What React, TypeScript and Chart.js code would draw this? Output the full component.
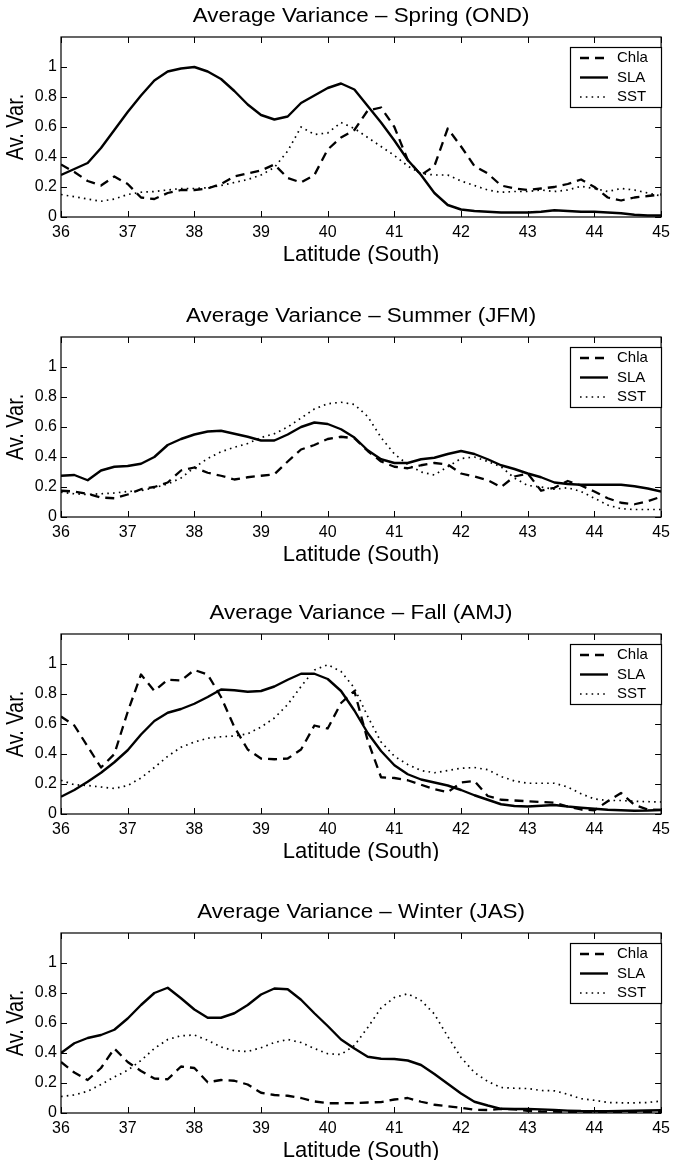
import React, { useEffect, useRef } from "react";
import { Chart, registerables } from "chart.js";

Chart.register(...registerables);

// ---------------- data ----------------
const LAT = [
  36.0, 36.2, 36.4, 36.6, 36.8, 37.0, 37.2, 37.4, 37.6, 37.8,
  38.0, 38.2, 38.4, 38.6, 38.8, 39.0, 39.2, 39.4, 39.6, 39.8,
  40.0, 40.2, 40.4, 40.6, 40.8, 41.0, 41.2, 41.4, 41.6, 41.8,
  42.0, 42.2, 42.4, 42.6, 42.8, 43.0, 43.2, 43.4, 43.6, 43.8,
  44.0, 44.2, 44.4, 44.6, 44.8, 45.0,
];

const X_TICKS = [36, 37, 38, 39, 40, 41, 42, 43, 44, 45];
const Y_TICKS = [0, 0.2, 0.4, 0.6, 0.8, 1];
const SERIES_NAMES = ["Chla", "SLA", "SST"];
const X_LABEL = "Latitude (South)";
const Y_LABEL = "Av. Var.";

const SPRING_CHLA = [0.35, 0.30, 0.24, 0.21, 0.27, 0.22, 0.13, 0.12, 0.16, 0.18, 0.18, 0.19, 0.22, 0.27, 0.29, 0.31, 0.35, 0.26, 0.23, 0.28, 0.45, 0.53, 0.58, 0.71, 0.73, 0.60, 0.38, 0.28, 0.34, 0.59, 0.47, 0.34, 0.29, 0.21, 0.19, 0.18, 0.19, 0.20, 0.22, 0.25, 0.20, 0.13, 0.11, 0.13, 0.14, 0.15];
const SPRING_SLA = [0.28, 0.32, 0.36, 0.46, 0.58, 0.70, 0.81, 0.91, 0.97, 0.99, 1.00, 0.97, 0.92, 0.84, 0.75, 0.68, 0.65, 0.67, 0.76, 0.81, 0.86, 0.89, 0.85, 0.74, 0.63, 0.51, 0.38, 0.28, 0.16, 0.08, 0.05, 0.04, 0.035, 0.03, 0.03, 0.03, 0.035, 0.045, 0.04, 0.035, 0.035, 0.03, 0.025, 0.015, 0.01, 0.01];
const SPRING_SST = [0.15, 0.135, 0.12, 0.105, 0.12, 0.15, 0.165, 0.17, 0.18, 0.19, 0.19, 0.195, 0.21, 0.23, 0.25, 0.28, 0.33, 0.44, 0.60, 0.55, 0.56, 0.63, 0.59, 0.53, 0.47, 0.41, 0.34, 0.29, 0.28, 0.28, 0.24, 0.21, 0.18, 0.165, 0.17, 0.17, 0.18, 0.17, 0.18, 0.205, 0.19, 0.17, 0.19, 0.18, 0.16, 0.14];

const SUMMER_CHLA = [0.175, 0.17, 0.155, 0.13, 0.125, 0.15, 0.185, 0.20, 0.23, 0.31, 0.33, 0.295, 0.275, 0.25, 0.265, 0.275, 0.285, 0.37, 0.45, 0.48, 0.52, 0.535, 0.525, 0.44, 0.37, 0.335, 0.325, 0.345, 0.36, 0.35, 0.29, 0.27, 0.245, 0.20, 0.27, 0.29, 0.175, 0.195, 0.24, 0.21, 0.17, 0.125, 0.095, 0.085, 0.105, 0.135];
const SUMMER_SLA = [0.275, 0.28, 0.245, 0.31, 0.335, 0.34, 0.355, 0.40, 0.48, 0.52, 0.55, 0.57, 0.575, 0.555, 0.535, 0.51, 0.51, 0.55, 0.60, 0.63, 0.62, 0.585, 0.53, 0.445, 0.385, 0.36, 0.36, 0.385, 0.395, 0.42, 0.44, 0.42, 0.385, 0.345, 0.32, 0.29, 0.265, 0.23, 0.22, 0.215, 0.215, 0.215, 0.215, 0.205, 0.19, 0.17];
const SUMMER_SST = [0.165, 0.155, 0.15, 0.155, 0.16, 0.17, 0.175, 0.195, 0.22, 0.26, 0.33, 0.39, 0.435, 0.465, 0.49, 0.53, 0.555, 0.60, 0.66, 0.72, 0.755, 0.765, 0.75, 0.67, 0.53, 0.42, 0.35, 0.30, 0.28, 0.335, 0.39, 0.40, 0.37, 0.335, 0.26, 0.21, 0.20, 0.185, 0.195, 0.17, 0.125, 0.08, 0.055, 0.05, 0.05, 0.05];

const FALL_CHLA = [0.65, 0.59, 0.45, 0.31, 0.40, 0.68, 0.93, 0.82, 0.895, 0.89, 0.96, 0.93, 0.78, 0.58, 0.43, 0.37, 0.365, 0.37, 0.43, 0.59, 0.57, 0.74, 0.82, 0.49, 0.245, 0.24, 0.225, 0.195, 0.165, 0.145, 0.21, 0.22, 0.12, 0.095, 0.09, 0.085, 0.08, 0.075, 0.05, 0.03, 0.025, 0.085, 0.14, 0.06, 0.03, 0.027];
const FALL_SLA = [0.115, 0.16, 0.215, 0.275, 0.345, 0.425, 0.53, 0.62, 0.675, 0.70, 0.735, 0.78, 0.83, 0.825, 0.815, 0.82, 0.85, 0.895, 0.935, 0.935, 0.90, 0.82, 0.69, 0.54, 0.42, 0.325, 0.265, 0.23, 0.21, 0.19, 0.16, 0.125, 0.095, 0.065, 0.053, 0.05, 0.055, 0.06, 0.05, 0.042, 0.035, 0.028, 0.025, 0.022, 0.023, 0.027];
const FALL_SST = [0.225, 0.195, 0.19, 0.18, 0.17, 0.19, 0.24, 0.31, 0.385, 0.445, 0.48, 0.505, 0.515, 0.52, 0.535, 0.58, 0.64, 0.73, 0.85, 0.96, 0.995, 0.95, 0.84, 0.65, 0.48, 0.385, 0.33, 0.29, 0.275, 0.29, 0.305, 0.31, 0.295, 0.25, 0.22, 0.205, 0.205, 0.205, 0.18, 0.135, 0.10, 0.09, 0.09, 0.085, 0.082, 0.08];

const WINTER_CHLA = [0.34, 0.27, 0.22, 0.30, 0.43, 0.34, 0.28, 0.23, 0.225, 0.31, 0.30, 0.205, 0.22, 0.215, 0.19, 0.135, 0.12, 0.115, 0.10, 0.077, 0.065, 0.065, 0.066, 0.07, 0.073, 0.09, 0.10, 0.075, 0.055, 0.045, 0.035, 0.022, 0.02, 0.027, 0.024, 0.015, 0.01, 0.009, 0.008, 0.007, 0.006, 0.005, 0.005, 0.005, 0.005, 0.005];
const WINTER_SLA = [0.40, 0.465, 0.50, 0.52, 0.555, 0.63, 0.72, 0.80, 0.835, 0.765, 0.69, 0.635, 0.635, 0.665, 0.72, 0.79, 0.83, 0.825, 0.755, 0.665, 0.58, 0.49, 0.43, 0.375, 0.362, 0.36, 0.35, 0.32, 0.26, 0.195, 0.13, 0.075, 0.05, 0.028, 0.027, 0.027, 0.024, 0.02, 0.016, 0.013, 0.012, 0.012, 0.013, 0.015, 0.017, 0.018];
const WINTER_SST = [0.11, 0.12, 0.145, 0.19, 0.24, 0.285, 0.35, 0.43, 0.49, 0.515, 0.52, 0.485, 0.44, 0.415, 0.41, 0.435, 0.47, 0.49, 0.47, 0.43, 0.395, 0.39, 0.45, 0.57, 0.70, 0.77, 0.795, 0.75, 0.66, 0.51, 0.37, 0.27, 0.21, 0.17, 0.165, 0.163, 0.15, 0.148, 0.125, 0.095, 0.085, 0.07, 0.068, 0.068, 0.07, 0.08];

const PANEL_TITLES = [
  "Average Variance \u2013 Spring (OND)",
  "Average Variance \u2013 Summer (JFM)",
  "Average Variance \u2013 Fall (AMJ)",
  "Average Variance \u2013 Winter (JAS)",
];

// ---------------- styles ----------------
const FONT = '"Liberation Sans", Arial, Helvetica, sans-serif';
const CANVAS_W = 676;
const CANVAS_H = 264;
const PANEL_TOPS = [0, 300, 597, 896];

const LINE_STYLES = [
  { width: 2.3, dash: [9, 6] },
  { width: 2.4, dash: [] as number[] },
  { width: 1.7, dash: [1.6, 4.2] },
];

function makeFramePlugin(title: string) {
  return {
    id: "matlabFrame",
    afterDraw(chart: any) {
      const ctx = chart.ctx as CanvasRenderingContext2D;
      const { left, right, top, bottom } = chart.chartArea;
      const xs = chart.scales.x;
      const ys = chart.scales.y;
      ctx.save();
      ctx.strokeStyle = "#000";
      ctx.fillStyle = "#000";
      ctx.setLineDash([]);
      ctx.lineWidth = 1.2;
      ctx.strokeRect(left, top, right - left, bottom - top);
      // inward ticks on all four sides
      ctx.lineWidth = 1;
      ctx.beginPath();
      X_TICKS.forEach((v) => {
        const px = Math.round(xs.getPixelForValue(v)) + 0.5;
        ctx.moveTo(px, bottom);
        ctx.lineTo(px, bottom - 6);
        ctx.moveTo(px, top);
        ctx.lineTo(px, top + 6);
      });
      Y_TICKS.forEach((v) => {
        const py = Math.round(ys.getPixelForValue(v)) + 0.5;
        ctx.moveTo(left, py);
        ctx.lineTo(left + 6, py);
        ctx.moveTo(right, py);
        ctx.lineTo(right - 6, py);
      });
      ctx.stroke();

      const cx = (left + right) / 2;
      // title
      ctx.save();
      ctx.translate(cx, top - 21);
      ctx.scale(1.12, 1);
      ctx.font = `20px ${FONT}`;
      ctx.textAlign = "center";
      ctx.textBaseline = "middle";
      ctx.fillText(title, 0, 0);
      ctx.restore();
      // x label
      ctx.font = `22px ${FONT}`;
      ctx.textAlign = "center";
      ctx.textBaseline = "middle";
      ctx.fillText(X_LABEL, cx, bottom + 38);
      // y label
      ctx.save();
      ctx.translate(17, (top + bottom) / 2);
      ctx.rotate(-Math.PI / 2);
      ctx.scale(1, 1.15);
      ctx.font = `20px ${FONT}`;
      ctx.textAlign = "center";
      ctx.textBaseline = "middle";
      ctx.fillText(Y_LABEL, 0, 0);
      ctx.restore();

      // legend
      const bx = 570;
      const bw = 91;
      const by = top + 10;
      const bh = 60;
      ctx.fillStyle = "#fff";
      ctx.fillRect(bx, by, bw, bh);
      ctx.strokeStyle = "#000";
      ctx.lineWidth = 1.2;
      ctx.strokeRect(bx + 0.5, by + 0.5, bw, bh);
      ctx.fillStyle = "#000";
      ctx.font = `15px ${FONT}`;
      ctx.textAlign = "left";
      ctx.textBaseline = "middle";
      SERIES_NAMES.forEach((name, i) => {
        const ly = by + 11 + i * 19.5;
        const st = LINE_STYLES[i];
        ctx.beginPath();
        ctx.lineWidth = st.width;
        ctx.setLineDash(st.dash);
        ctx.moveTo(bx + 10, ly);
        ctx.lineTo(bx + 38, ly);
        ctx.stroke();
        ctx.setLineDash([]);
        ctx.fillText(name, bx + 47, ly);
      });
      ctx.restore();
    },
  };
}

function Panel(props: { title: string; series: number[][]; top: number }) {
  const ref = useRef<HTMLCanvasElement>(null);
  useEffect(() => {
    const canvas = ref.current;
    if (!canvas) return;
    const datasets = props.series.map((vals, i) => ({
      label: SERIES_NAMES[i],
      data: LAT.map((x, k) => ({ x, y: vals[k] })),
      borderColor: "#000",
      backgroundColor: "#000",
      borderWidth: LINE_STYLES[i].width,
      borderDash: LINE_STYLES[i].dash,
      borderCapStyle: "butt" as const,
      borderJoinStyle: "round" as const,
      pointRadius: 0,
      tension: 0,
      fill: false,
    }));
    const chart = new Chart(canvas, {
      type: "line",
      data: { datasets },
      options: {
        responsive: false,
        animation: false,
        devicePixelRatio: 1,
        layout: { padding: { top: 37, right: 10, left: 0, bottom: 0 } },
        plugins: {
          legend: { display: false },
          title: { display: false },
          tooltip: { enabled: false },
        },
        scales: {
          x: {
            type: "linear",
            min: 36,
            max: 45,
            afterFit: (s: any) => {
              s.height = CANVAS_H - 217;
            },
            afterBuildTicks: (s: any) => {
              s.ticks = X_TICKS.map((v) => ({ value: v }));
            },
            grid: { display: false, drawTicks: false },
            border: { display: false },
            ticks: {
              padding: 6,
              color: "#000",
              maxRotation: 0,
              autoSkip: false,
              font: { family: FONT, size: 16 },
              callback: (v: any) => String(v),
            },
          },
          y: {
            type: "linear",
            min: 0,
            max: 1.2,
            afterFit: (s: any) => {
              s.width = 61;
            },
            afterBuildTicks: (s: any) => {
              s.ticks = Y_TICKS.map((v) => ({ value: v }));
            },
            grid: { display: false, drawTicks: false },
            border: { display: false },
            ticks: {
              padding: 4,
              color: "#000",
              autoSkip: false,
              font: { family: FONT, size: 16 },
              callback: (v: any) => String(Math.round(Number(v) * 10) / 10),
            },
          },
        },
      },
      plugins: [makeFramePlugin(props.title)],
    } as any);
    return () => chart.destroy();
  }, []);
  return (
    <canvas
      ref={ref}
      width={CANVAS_W}
      height={CANVAS_H}
      style={{ position: "absolute", left: 0, top: props.top, width: CANVAS_W, height: CANVAS_H }}
    />
  );
}

const PANEL_SERIES = [
  [SPRING_CHLA, SPRING_SLA, SPRING_SST],
  [SUMMER_CHLA, SUMMER_SLA, SUMMER_SST],
  [FALL_CHLA, FALL_SLA, FALL_SST],
  [WINTER_CHLA, WINTER_SLA, WINTER_SST],
];

export default function App() {
  return (
    <div style={{ position: "absolute", left: 0, top: 0, width: 676, height: 1160, background: "#fff" }}>
      {PANEL_TITLES.map((t, i) => (
        <Panel key={i} title={t} series={PANEL_SERIES[i]} top={PANEL_TOPS[i]} />
      ))}
    </div>
  );
}
